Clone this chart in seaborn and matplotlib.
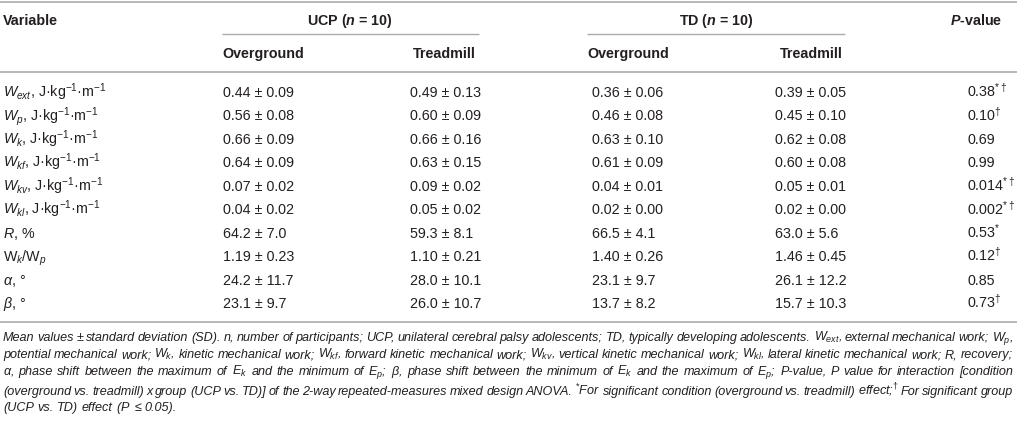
import matplotlib
matplotlib.use("Agg")
import matplotlib.pyplot as plt
import seaborn as sns

# ---- table values ----
var_labels = [
    r"$W_{ext}$, J·kg$^{-1}$·m$^{-1}$",
    r"$W_{p}$, J·kg$^{-1}$·m$^{-1}$",
    r"$W_{k}$, J·kg$^{-1}$·m$^{-1}$",
    r"$W_{kf}$, J·kg$^{-1}$·m$^{-1}$",
    r"$W_{kv}$, J·kg$^{-1}$·m$^{-1}$",
    r"$W_{kl}$, J·kg$^{-1}$·m$^{-1}$",
    r"$R$, %",
    r"W$_{k}$/W$_{p}$",
    r"$\alpha$, °",
    r"$\beta$, °",
]
ucp_over_mean = [0.44, 0.56, 0.66, 0.64, 0.07, 0.04, 64.2, 1.19, 24.2, 23.1]
ucp_over_sd = [0.09, 0.08, 0.09, 0.09, 0.02, 0.02, 7.0, 0.23, 11.7, 9.7]
ucp_tread_mean = [0.49, 0.60, 0.66, 0.63, 0.09, 0.05, 59.3, 1.10, 28.0, 26.0]
ucp_tread_sd = [0.13, 0.09, 0.16, 0.15, 0.02, 0.02, 8.1, 0.21, 10.1, 10.7]
td_over_mean = [0.36, 0.46, 0.63, 0.61, 0.04, 0.02, 66.5, 1.40, 23.1, 13.7]
td_over_sd = [0.06, 0.08, 0.10, 0.09, 0.01, 0.00, 4.1, 0.26, 9.7, 8.2]
td_tread_mean = [0.39, 0.45, 0.62, 0.60, 0.05, 0.02, 63.0, 1.46, 26.1, 15.7]
td_tread_sd = [0.05, 0.10, 0.08, 0.08, 0.01, 0.00, 5.6, 0.45, 12.2, 10.3]
decimals = [2, 2, 2, 2, 2, 2, 1, 2, 1, 1]
p_values = [0.38, 0.10, 0.69, 0.99, 0.014, 0.002, 0.53, 0.12, 0.85, 0.73]
p_decimals = [2, 2, 2, 2, 3, 3, 2, 2, 2, 2]
p_marks = [r"{*}\dagger", r"\dagger", "", "", r"{*}\dagger", r"{*}\dagger", "{*}", r"\dagger", "", r"\dagger"]

caption_lines = [
    r"Mean values ± standard deviation (SD). n, number of participants; UCP, unilateral cerebral palsy adolescents; TD, typically developing adolescents. $W_{ext}$, external mechanical work; $W_{p}$,",
    r"potential mechanical work; $W_{k}$, kinetic mechanical work; $W_{kf}$, forward kinetic mechanical work; $W_{kv}$, vertical kinetic mechanical work; $W_{kl}$, lateral kinetic mechanical work; R, recovery;",
    r"$\alpha$, phase shift between the maximum of $E_{k}$ and the minimum of $E_{p}$; $\beta$, phase shift between the minimum of $E_{k}$ and the maximum of $E_{p}$; P-value, P value for interaction [condition",
    r"(overground vs. treadmill) x group (UCP vs. TD)] of the 2-way repeated-measures mixed design ANOVA. $^{*}$For significant condition (overground vs. treadmill) effect;$^{\dagger}$ For significant group",
    r"(UCP vs. TD) effect ($P$ ≤ 0.05).",
]

sns.set_theme(style="white")
plt.rcParams["font.family"] = ["Liberation Sans", "DejaVu Sans"]
plt.rcParams["mathtext.fontset"] = "custom"
plt.rcParams["mathtext.rm"] = "Liberation Sans"
plt.rcParams["mathtext.it"] = "Liberation Sans:italic"
plt.rcParams["mathtext.bf"] = "Liberation Sans:bold"
plt.rcParams["mathtext.bfit"] = "Liberation Sans:bold:italic"

TXT = "#231f20"
RULE = "#a9abae"
FS = 10.3
CAP_FS = 9.1

fig = plt.figure(figsize=(10.17, 4.23), dpi=100)
ax = fig.add_axes([0, 0, 1, 1])
ax.set_xlim(0, 1017)
ax.set_ylim(423, 0)
ax.axis("off")

# rules
ax.hlines([2, 72, 322], 0, 1017, color=RULE, lw=1.2)
ax.hlines(34, 222, 479, color=RULE, lw=1.0)
ax.hlines(34, 587, 845, color=RULE, lw=1.0)

# header
hdr = dict(fontsize=FS, fontweight="bold", color=TXT, va="baseline")
ax.text(3, 25, "Variable", ha="left", **hdr)
ax.text(350, 25, r"UCP ($\mathbfit{n}$ = 10)", ha="center", **hdr)
ax.text(716, 25, r"TD ($\mathbfit{n}$ = 10)", ha="center", **hdr)
ax.text(1002, 25, r"$\mathbfit{P}$-value", ha="right", **hdr)
for x, lab in zip([222, 413, 587, 780], ["Overground", "Treadmill", "Overground", "Treadmill"]):
    ax.text(x, 58, lab, ha="left", **hdr)

# body rows
col_x = [223, 410, 592, 775]
groups = [(ucp_over_mean, ucp_over_sd), (ucp_tread_mean, ucp_tread_sd),
          (td_over_mean, td_over_sd), (td_tread_mean, td_tread_sd)]
body = dict(fontsize=FS, color=TXT, va="baseline")
for i, lab in enumerate(var_labels):
    yb = 92 + i * 23.45 + 5
    ax.text(3, yb, lab, ha="left", **body)
    d = decimals[i]
    for x, (m, s) in zip(col_x, groups):
        ax.text(x, yb, f"{m[i]:.{d}f} ± {s[i]:.{d}f}", ha="left", **body)
    ptxt = f"{p_values[i]:.{p_decimals[i]}f}"
    if p_marks[i]:
        ptxt += r"$^{" + p_marks[i] + "}$"
    ax.text(967, yb, ptxt, ha="left", **body)

# caption, justified lines
renderer = fig.canvas.get_renderer()
cap_y = [341, 358, 375, 395, 411]
cap = dict(fontsize=CAP_FS, style="italic", color=TXT, va="baseline")
left, right = 3, 1013
for j, (line, yb) in enumerate(zip(caption_lines, cap_y)):
    words = line.split(" ")
    objs = [ax.text(0, yb, w, ha="left", **cap) for w in words]
    widths = [o.get_window_extent(renderer).width for o in objs]
    if j < len(caption_lines) - 1:
        gap = (right - left - sum(widths)) / (len(words) - 1)
    else:
        t1 = ax.text(0, yb, "a a", **cap)
        t2 = ax.text(0, yb, "aa", **cap)
        gap = t1.get_window_extent(renderer).width - t2.get_window_extent(renderer).width
        t1.remove()
        t2.remove()
    x = left
    for o, w in zip(objs, widths):
        o.set_x(x)
        x += w + gap

fig.savefig("out.png", dpi=100)
